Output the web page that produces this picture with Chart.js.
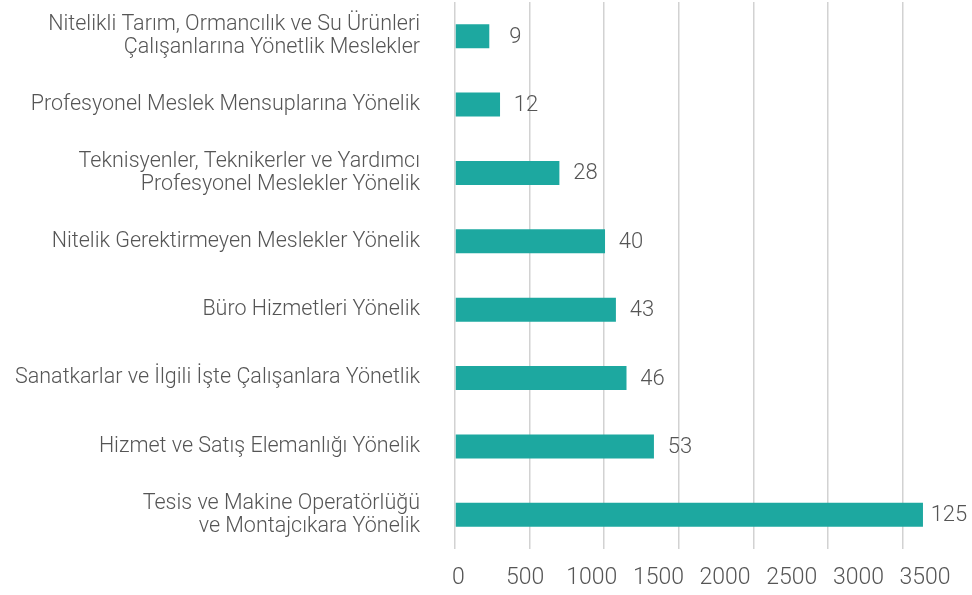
<!DOCTYPE html>
<html>
<head>
<meta charset="utf-8">
<script src="https://cdn.jsdelivr.net/npm/chart.js@4"></script>
<style>
  html, body { margin: 0; padding: 0; background: #fff; }
  #wrap { width: 972px; height: 595px; }
</style>
</head>
<body>
<div id="wrap"><canvas id="chart"></canvas></div>
<script>
// categories, top to bottom
var categories = [
  ["Nitelikli Tarım, Ormancılık ve Su Ürünleri", "Çalışanlarına Yönetlik Meslekler"],
  "Profesyonel Meslek Mensuplarına Yönelik",
  ["Teknisyenler, Teknikerler ve Yardımcı", "Profesyonel Meslekler Yönelik"],
  "Nitelik Gerektirmeyen Meslekler Yönelik",
  "Büro Hizmetleri Yönelik",
  "Sanatkarlar ve İlgili İşte Çalışanlara Yönetlik",
  "Hizmet ve Satış Elemanlığı Yönelik",
  ["Tesis ve Makine Operatörlüğü", "ve Montajcıkara Yönelik"]
];
// bar lengths
var barValues = [230, 302, 700, 1006, 1079, 1150, 1334, 3138];
// numbers printed next to the bars
var valueLabels = [9, 12, 28, 40, 43, 46, 53, 125];
// axis tick labels
var tickValues = [0, 500, 1000, 1500, 2000, 2500, 3000, 3500];
var gridValues = [0, 500, 1000, 1500, 2000, 2500, 3000];

var textColor = '#555555';
var fontFamily = 'Roboto, sans-serif';

// draws the number labels right of each bar
var valueLabelPlugin = {
  id: 'valueLabels',
  afterDatasetsDraw: function(chart) {
    var ctx = chart.ctx;
    var meta = chart.getDatasetMeta(0);
    ctx.save();
    ctx.font = '300 22px ' + fontFamily;
    ctx.fillStyle = textColor;
    ctx.textAlign = 'center';
    ctx.textBaseline = 'middle';
    meta.data.forEach(function(bar, i) {
      ctx.fillText(String(valueLabels[i]), bar.x + 26, bar.y + 1);
    });
    ctx.restore();
  }
};

var ctx = document.getElementById('chart').getContext('2d');
new Chart(ctx, {
  type: 'bar',
  data: {
    labels: categories,
    datasets: [{
      data: barValues,
      backgroundColor: '#1da8a0',
      borderWidth: 0,
      barPercentage: 0.35,
      categoryPercentage: 1
    }]
  },
  options: {
    indexAxis: 'y',
    responsive: true,
    maintainAspectRatio: false,
    animation: false,
    layout: { padding: { top: 2, right: 2.5, bottom: 3, left: 0 } },
    plugins: {
      legend: { display: false },
      tooltip: { enabled: false }
    },
    scales: {
      x: {
        position: 'bottom',
        min: 0,
        max: 3450,
        bounds: 'data',
        afterBuildTicks: function(axis) {
          axis.ticks = gridValues.map(function(v) { return { value: v }; });
        },
        afterFit: function(scale) { scale.height = 0; },
        grid: { color: '#d2d2d2', lineWidth: 1.5, drawTicks: false },
        border: { display: false },
        ticks: { display: false }
      },
      xLabels: {
        type: 'linear',
        position: 'bottom',
        min: -26,
        max: 3833,
        bounds: 'data',
        afterBuildTicks: function(axis) {
          axis.ticks = tickValues.map(function(v) { return { value: v }; });
        },
        afterFit: function(scale) { scale.height = 43; },
        grid: { display: false, drawTicks: false },
        border: { display: false },
        ticks: {
          autoSkip: false,
          maxRotation: 0,
          padding: 15,
          color: textColor,
          font: { family: fontFamily, size: 23, weight: 300 },
          callback: function(value) { return String(value); }
        }
      },
      y: {
        afterFit: function(scale) {
          scale.width = 455;
          scale.paddingTop = 0;
          scale.paddingBottom = 0;
        },
        grid: { display: false, drawTicks: false },
        border: { display: false },
        ticks: {
          padding: 35,
          color: textColor,
          font: { family: fontFamily, size: 21.5, weight: 300, lineHeight: 1.08 }
        }
      }
    }
  },
  plugins: [valueLabelPlugin]
});
</script>
</body>
</html>
